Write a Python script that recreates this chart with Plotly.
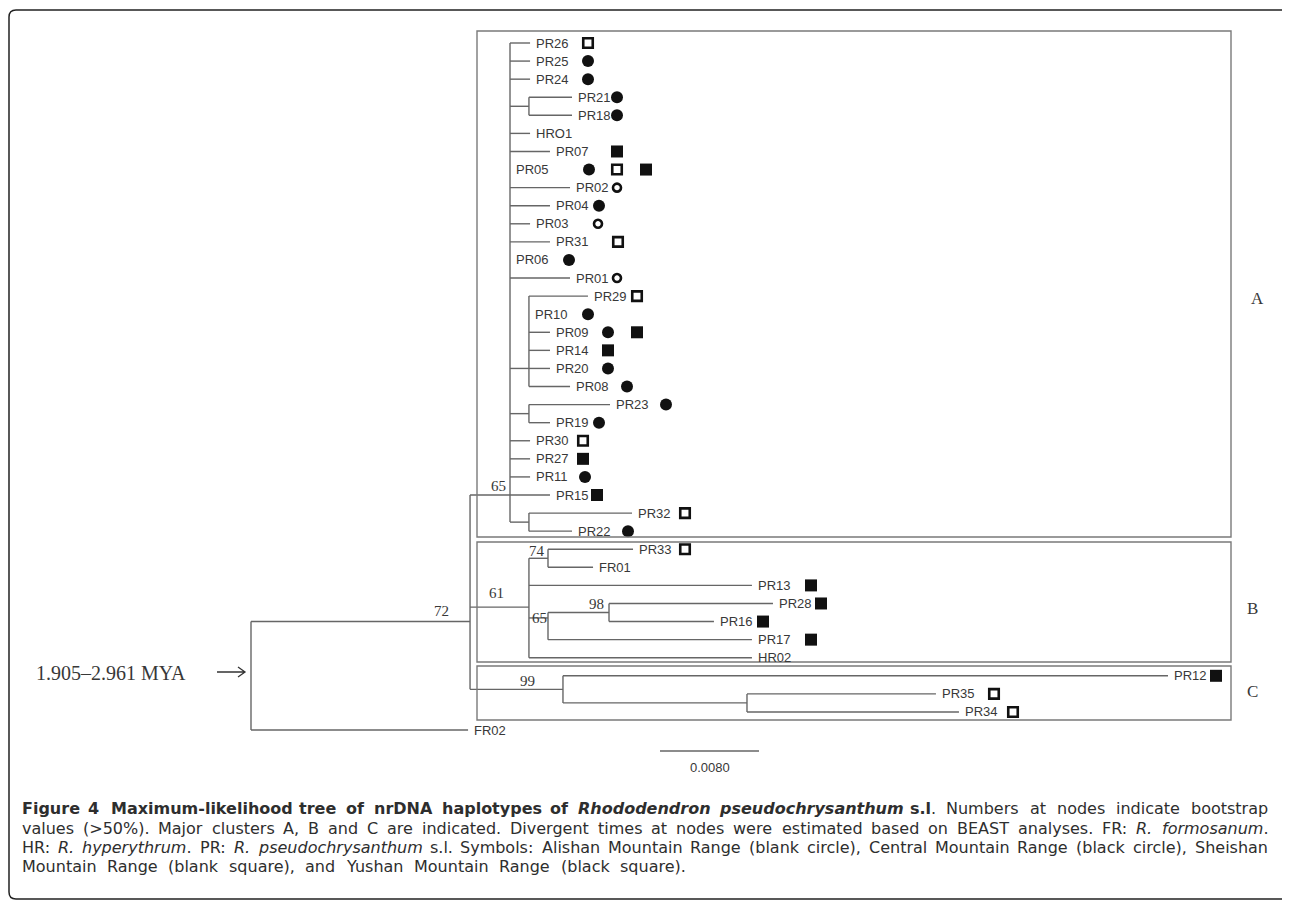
import re
import plotly.graph_objects as go

# ---------------- DATA ----------------
tip_names = ["PR26", "PR25", "PR24", "PR21", "PR18", "HRO1", "PR07", "PR05", "PR02", "PR04",
             "PR03", "PR31", "PR06", "PR01", "PR29", "PR10", "PR09", "PR14", "PR20", "PR08",
             "PR23", "PR19", "PR30", "PR27", "PR11", "PR15", "PR32", "PR22",
             "PR33", "FR01", "PR13", "PR28", "PR16", "PR17", "HR02",
             "PR12", "PR35", "PR34", "FR02"]
tip_parent = ["NA", "NA", "NA", "N2118", "N2118", "NA", "NA", "NA", "NA", "NA",
              "NA", "NA", "NA", "NA", "N29", "N29", "N29", "N29", "N29", "N29",
              "N2319", "N2319", "NA", "NA", "NA", "NA", "N3222", "N3222",
              "N74", "N74", "NB", "N98", "N98", "N65b", "NB",
              "NC", "N3534", "N3534", "root"]
# distance from root (substitutions/site)
tip_depth = [0.02255, 0.02255, 0.02255, 0.02594, 0.02594, 0.02255, 0.02416, 0.02093, 0.02578, 0.02416,
             0.02255, 0.02416, 0.02093, 0.02578, 0.02723, 0.02246, 0.02416, 0.02416, 0.02416, 0.02578,
             0.02901, 0.02416, 0.02255, 0.02255, 0.02255, 0.02416, 0.03079, 0.02594,
             0.03087, 0.02764, 0.04048, 0.04218, 0.03741, 0.04048, 0.04048,
             0.07410, 0.05535, 0.05721, 0.01754]
tip_row = list(range(len(tip_names)))

node_names = ["root", "N72", "NA", "N2118", "N29", "N2319", "N3222", "NB", "N74", "N65b", "N98", "NC", "N3534"]
node_parent = [None, "root", "N72", "NA", "NA", "NA", "NA", "N72", "NB", "NB", "N65b", "N72", "NC"]
node_depth = [0.0, 0.01770, 0.02093, 0.02246, 0.02246, 0.02246, 0.02246, 0.02246, 0.02400, 0.02400, 0.02893, 0.02521, 0.04008]
node_row = [34.8, 32.0, 25.0, 3.5, 18.0, 20.5, 26.5, 31.2, 28.5, 31.8, 31.5, 35.75, 36.5]
node_support = ["", "72", "65", "", "", "", "", "61", "74", "65", "98", "99", ""]

# distribution codes: O = Alishan (blank circle), C = Central (black circle),
# S = Sheishan (blank square), Q = Yushan (black square)
tip_regions = {
    "PR26": ["S"], "PR25": ["C"], "PR24": ["C"], "PR21": ["C"], "PR18": ["C"],
    "PR07": ["Q"], "PR05": ["C", "S", "Q"], "PR02": ["O"], "PR04": ["C"], "PR03": ["O"],
    "PR31": ["S"], "PR06": ["C"], "PR01": ["O"], "PR29": ["S"], "PR10": ["C"],
    "PR09": ["C", "Q"], "PR14": ["Q"], "PR20": ["C"], "PR08": ["C"], "PR23": ["C"],
    "PR19": ["C"], "PR30": ["S"], "PR27": ["Q"], "PR11": ["C"], "PR15": ["Q"],
    "PR32": ["S"], "PR22": ["C"], "PR33": ["S"], "PR13": ["Q"], "PR28": ["Q"],
    "PR16": ["Q"], "PR17": ["Q"], "PR12": ["Q"], "PR35": ["S"], "PR34": ["S"],
}
cluster_names = ["A", "B", "C"]
scale_length = 0.008
scale_text = "0.0080"
age_text = "1.905\u20132.961 MYA"
caption_lines = [
    "<b>Figure 4 Maximum-likelihood tree of nrDNA haplotypes of <i>Rhododendron pseudochrysanthum</i> s.l</b>. "
    "Numbers at nodes indicate bootstrap",
    "values (>50%). Major clusters A, B and C are indicated. Divergent times at nodes were estimated based on "
    "BEAST analyses. FR: <i>R. formosanum</i>.",
    "HR: <i>R. hyperythrum</i>. PR: <i>R. pseudochrysanthum</i> s.l. Symbols: Alishan Mountain Range (blank circle), "
    "Central Mountain Range (black circle), Sheishan",
    "Mountain Range (blank square), and Yushan Mountain Range (black square).",
]

# ---------------- LAYOUT (pixel placement, screen px) ----------------
OFF = 8                      # page body margin
W, H = 1290 - OFF, 902 - OFF
PX_PER_UNIT = 99 / 0.008
ROOT_PX = 251
ROW0_PX = 43
ROW_PX = 18.08


def px2d(px):
    return (px - ROOT_PX) / PX_PER_UNIT


def py2r(py):
    return (py - ROW0_PX) / ROW_PX


def pxp(px):
    return (px - OFF) / W


def pyp(py):
    return 1 - (py - OFF) / H


sym_px = {
    "PR26": [588], "PR25": [588], "PR24": [588], "PR21": [617], "PR18": [617],
    "PR07": [617], "PR05": [589, 617, 646], "PR02": [617], "PR04": [599], "PR03": [598],
    "PR31": [618], "PR06": [569], "PR01": [617], "PR29": [637], "PR10": [588],
    "PR09": [608, 637], "PR14": [608], "PR20": [608], "PR08": [627], "PR23": [666],
    "PR19": [599], "PR30": [583], "PR27": [583], "PR11": [585], "PR15": [597],
    "PR32": [685], "PR22": [628], "PR33": [685], "PR13": [811], "PR28": [821],
    "PR16": [763], "PR17": [811], "PR12": [1216], "PR35": [994], "PR34": [1013],
}
support_shift = {"N72": (-29, -11), "NA": (-12, -9), "NB": (-32, -14), "N74": (-11, -7),
                 "N98": (-13, -9), "N65b": (-9, 0), "NC": (-35, -8)}
boxes_py = [(31, 537), (542, 662), (666, 720)]
box_px = (477, 1231)
cluster_label_pos = [(1257, 298), (1252, 608), (1252, 691)]
cap_y = [808, 828, 847, 866]
cap_x0 = 22
cap_x1 = [1268, 1268, 1268, 686]
CAP_SIZE = 16

SANS = "Liberation Sans, Arial, sans-serif"
SERIF = "Liberation Serif, Times New Roman, serif"
CAPFONT = "DejaVu Sans, sans-serif"
LINE = "#666666"
TXT = "#383838"

# ---------------- build tree ----------------
depth, row, parent = {}, {}, {}
for n, d, r, p in zip(node_names, node_depth, node_row, node_parent):
    depth[n], row[n], parent[n] = d, r, p
for n, d, r, p in zip(tip_names, tip_depth, tip_row, tip_parent):
    depth[n], row[n], parent[n] = d, r, p
children = {n: [] for n in node_names}
for c, p in parent.items():
    if p is not None:
        children[p].append(c)

xs, ys = [], []
for c, p in parent.items():
    if p is None:
        continue
    if depth[c] > depth[p] + 1e-9:
        xs += [depth[p], depth[c], None]
        ys += [row[c], row[c], None]
for n in node_names:
    rs = [row[c] for c in children[n]]
    xs += [depth[n], depth[n], None]
    ys += [min(rs), max(rs), None]

fig = go.Figure()
fig.add_trace(go.Scatter(x=xs, y=ys, mode="lines", line=dict(color=LINE, width=1.4),
                         hoverinfo="skip", showlegend=False))

sym_style = {
    "C": dict(symbol="circle", size=12, color="#111111", line=dict(width=0)),
    "O": dict(symbol="circle-open", size=8, color="#111111", line=dict(width=2.6, color="#111111")),
    "Q": dict(symbol="square", size=12, color="#111111", line=dict(width=0)),
    "S": dict(symbol="square-open", size=9.5, color="#111111", line=dict(width=2.6, color="#111111")),
}
for code in ["C", "O", "Q", "S"]:
    sx, sy = [], []
    for name, regs in tip_regions.items():
        for reg, px in zip(regs, sym_px[name]):
            if reg == code:
                sx.append(px2d(px))
                sy.append(row[name])
    fig.add_trace(go.Scatter(x=sx, y=sy, mode="markers", marker=sym_style[code],
                             hoverinfo="skip", showlegend=False))

# scale bar
sb_x0 = px2d(660)
sb_row = py2r(751)
fig.add_trace(go.Scatter(x=[sb_x0, sb_x0 + scale_length], y=[sb_row, sb_row], mode="lines",
                         line=dict(color=LINE, width=1.6), hoverinfo="skip", showlegend=False))

ann = []
for n in tip_names:
    ann.append(dict(x=depth[n], y=row[n], xref="x", yref="y", text=n, showarrow=False,
                    xanchor="left", yanchor="middle", xshift=4,
                    font=dict(family=SANS, size=13, color=TXT)))
for n, s in zip(node_names, node_support):
    if s:
        dx, dy = support_shift[n]
        ann.append(dict(x=depth[n], y=row[n], xref="x", yref="y", text=s, showarrow=False,
                        xanchor="center", yanchor="middle", xshift=dx, yshift=-dy,
                        font=dict(family=SERIF, size=15, color=TXT)))
for lab, (lx, ly) in zip(cluster_names, cluster_label_pos):
    ann.append(dict(x=pxp(lx), y=pyp(ly), xref="paper", yref="paper", text=lab, showarrow=False,
                    xanchor="center", yanchor="middle", font=dict(family=SERIF, size=17, color=TXT)))
ann.append(dict(x=sb_x0 + scale_length / 2, y=py2r(767), xref="x", yref="y", text=scale_text,
                showarrow=False, xanchor="center", yanchor="middle",
                font=dict(family=SANS, size=13, color=TXT)))
ann.append(dict(x=pxp(111), y=pyp(673), xref="paper", yref="paper", text=age_text, showarrow=False,
                xanchor="center", yanchor="middle", font=dict(family=SERIF, size=20, color=TXT)))

# ---------------- caption (justified word by word) ----------------
DJ = {" ": 651, "a": 1255, "b": 1300, "c": 1126, "d": 1300, "e": 1260, "f": 721, "g": 1300, "h": 1298,
      "i": 569, "j": 569, "k": 1186, "l": 569, "m": 1995, "n": 1298, "o": 1253, "p": 1300, "q": 1300,
      "r": 842, "s": 1067, "t": 803, "u": 1298, "v": 1212, "w": 1675, "x": 1212, "y": 1212, "z": 1075,
      "A": 1401, "B": 1405, "C": 1430, "D": 1577, "E": 1294, "F": 1178, "G": 1587, "H": 1540, "I": 604,
      "M": 1767, "N": 1532, "O": 1612, "P": 1235, "R": 1423, "S": 1300, "T": 1251, "Y": 1251,
      ".": 651, ",": 651, ":": 690, "(": 799, ")": 799, "-": 739, "%": 1946, ">": 1716}


def char_w(ch, b, i):
    w = DJ.get(ch, 1303 if ch.isdigit() else 1250)
    f = 1.1 if b else 1.0
    return w * f / 2048 * CAP_SIZE


def tokenize(line):
    bold = ital = False
    words, cur = [], []
    for tok in re.split(r"(<b>|</b>|<i>|</i>| )", line):
        if tok == "<b>":
            bold = True
        elif tok == "</b>":
            bold = False
        elif tok == "<i>":
            ital = True
        elif tok == "</i>":
            ital = False
        elif tok == " ":
            if cur:
                words.append(cur)
                cur = []
        elif tok:
            cur.append((tok, bold, ital))
    if cur:
        words.append(cur)
    return words


def word_html(word):
    out = ""
    for t, b, i in word:
        t = t.replace("&", "&amp;").replace(">", "&gt;").replace("<", "&lt;")
        if i:
            t = "<i>" + t + "</i>"
        if b:
            t = "<b>" + t + "</b>"
        out += t
    return out


for line, cy, x1 in zip(caption_lines, cap_y, cap_x1):
    words = tokenize(line)
    widths = [sum(char_w(ch, b, i) for t, b, i in w for ch in t) for w in words]
    gap = (x1 - cap_x0 - sum(widths)) / max(len(words) - 1, 1)
    x = cap_x0
    for w, wd in zip(words, widths):
        ann.append(dict(x=pxp(x), y=pyp(cy), xref="paper", yref="paper", text=word_html(w),
                        showarrow=False, xanchor="left", yanchor="middle", borderpad=0, borderwidth=0,
                        font=dict(family=CAPFONT, size=CAP_SIZE, color="#2e2e2e")))
        x += wd + gap

shapes = []
for (y0, y1) in boxes_py:
    shapes.append(dict(type="rect", xref="x", yref="y", x0=px2d(box_px[0]), x1=px2d(box_px[1]),
                       y0=py2r(y0), y1=py2r(y1), line=dict(color="#7a7a7a", width=1.4)))


def P(px, py):
    return f"{pxp(px):.5f},{pyp(py):.5f}"


# arrow next to the age label
shapes.append(dict(type="path", xref="paper", yref="paper",
                   path=f"M {P(217, 672)} L {P(245, 672)} M {P(238, 667)} L {P(245, 672)} L {P(238, 677)}",
                   line=dict(color="#333333", width=1.3)))
# outer rounded frame
L, T, R, B, rad = 9, 10, 1289, 899, 7
frame = (f"M {P(L + rad, T)} L {P(R - rad, T)} Q {P(R, T)} {P(R, T + rad)} L {P(R, B - rad)} "
         f"Q {P(R, B)} {P(R - rad, B)} L {P(L + rad, B)} Q {P(L, B)} {P(L, B - rad)} "
         f"L {P(L, T + rad)} Q {P(L, T)} {P(L + rad, T)} Z")
shapes.append(dict(type="path", xref="paper", yref="paper", path=frame, line=dict(color="#222222", width=1.5)))

fig.update_layout(
    width=W, height=H, margin=dict(l=0, r=0, t=0, b=0),
    paper_bgcolor="white", plot_bgcolor="white",
    xaxis=dict(range=[px2d(OFF), px2d(OFF + W)], visible=False, showgrid=False, zeroline=False, fixedrange=True),
    yaxis=dict(range=[py2r(OFF + H), py2r(OFF)], visible=False, showgrid=False, zeroline=False, fixedrange=True),
    annotations=ann, shapes=shapes,
)
fig.write_html("out.html")
